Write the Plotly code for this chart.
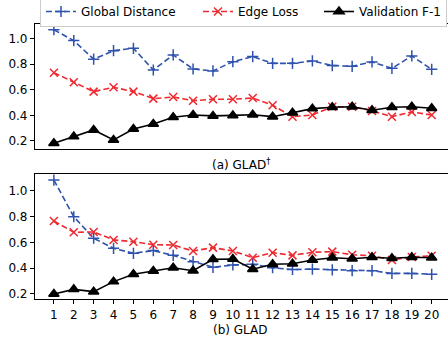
import plotly.graph_objects as go
from plotly.subplots import make_subplots

epochs = list(range(1, 21))

# (a) GLAD†
a_global = [1.07, 0.985, 0.84, 0.906, 0.925, 0.755, 0.873, 0.763, 0.748, 0.82,
            0.86, 0.807, 0.807, 0.826, 0.79, 0.784, 0.818, 0.768, 0.865, 0.76]
a_edge = [0.734, 0.659, 0.586, 0.62, 0.586, 0.531, 0.544, 0.515, 0.526, 0.526,
          0.536, 0.479, 0.39, 0.403, 0.468, 0.468, 0.435, 0.39, 0.427, 0.403]
a_f1 = [0.182, 0.234, 0.286, 0.208, 0.294, 0.333, 0.385, 0.403, 0.396, 0.40,
        0.405, 0.39, 0.421, 0.453, 0.464, 0.468, 0.44, 0.464, 0.468, 0.456]

# (b) GLAD
b_global = [1.085, 0.80, 0.633, 0.555, 0.516, 0.537, 0.50, 0.451, 0.407, 0.425,
            0.43, 0.404, 0.39, 0.393, 0.388, 0.381, 0.381, 0.36, 0.36, 0.353]
b_edge = [0.767, 0.679, 0.682, 0.62, 0.606, 0.583, 0.58, 0.534, 0.56, 0.534,
          0.482, 0.521, 0.50, 0.524, 0.529, 0.505, 0.497, 0.464, 0.487, 0.497]
b_f1 = [0.20, 0.236, 0.218, 0.296, 0.353, 0.379, 0.404, 0.381, 0.469, 0.472,
        0.392, 0.431, 0.435, 0.464, 0.482, 0.474, 0.485, 0.477, 0.485, 0.482]

series_names = ["Global Distance", "Edge Loss", "Validation F-1"]
y_ticks = [0.2, 0.4, 0.6, 0.8, 1.0]
y_tick_labels = ["0.2", "0.4", "0.6", "0.8", "1.0"]
panel_titles = ["(a) GLAD<sup>\u2020</sup>", "(b) GLAD"]

BLUE = "#2f52ad"
RED = "#ee2a30"
BLACK = "#000000"
FONT = "DejaVu Sans"

W, H = 448, 343
L = 35
PW = W - L

fig = make_subplots(rows=2, cols=1)

styles = [
    dict(color=BLUE, dash="6px,3px", symbol="cross-thin", size=8, lw=112),
    dict(color=RED, dash="6px,3px", symbol="x-thin", size=8, lw=76),
    dict(color=BLACK, dash="solid", symbol="triangle-up", size=9, lw=None),
]

for row, data in ((1, (a_global, a_edge, a_f1)), (2, (b_global, b_edge, b_f1))):
    for name, ys, st in zip(series_names, data, styles):
        kw = {}
        if st["lw"] is not None:
            kw["legendwidth"] = st["lw"]
        fig.add_trace(go.Scatter(
            x=epochs, y=ys, name=name, mode="lines+markers",
            showlegend=(row == 1),
            line=dict(color=st["color"], width=1.6, dash=st["dash"]),
            marker=dict(symbol=st["symbol"], size=st["size"], color=st["color"],
                        line=dict(color=st["color"], width=1.5)),
            **kw,
        ), row=row, col=1)


def ydom(top_px, bot_px):
    return [(H - bot_px) / H, (H - top_px) / H]


fig.update_layout(
    width=W, height=H,
    margin=dict(l=L, r=0, t=0, b=0, autoexpand=False),
    paper_bgcolor="white", plot_bgcolor="white",
    font=dict(family=FONT, size=12, color="black"),
    legend=dict(orientation="h", x=40 / W, xref="container",
                y=(H + 4) / H, yref="paper", xanchor="left", yanchor="top",
                bordercolor="#cccccc", borderwidth=1, bgcolor="white",
                font=dict(family=FONT, size=12), itemwidth=30,
                tracegroupgap=0),
    showlegend=True,
)

common_x = dict(range=[0.05, 20.82], showgrid=False, zeroline=False,
                showline=True, linecolor="black", linewidth=1.2, mirror=True,
                domain=[0, 1], automargin=False)
fig.update_xaxes(**common_x, showticklabels=False, ticks="", row=1, col=1)
fig.update_xaxes(**common_x, tickmode="array", tickvals=epochs,
                 ticktext=[str(e) for e in epochs], ticks="outside",
                 ticklen=4, tickcolor="black", row=2, col=1)

common_y = dict(showgrid=False, zeroline=False, showline=True, linecolor="black",
                linewidth=1.2, mirror=False, tickmode="array", tickvals=y_ticks,
                ticktext=y_tick_labels, ticks="outside", ticklen=4,
                tickcolor="black", automargin=False)
fig.update_yaxes(**common_y, range=[0.137, 1.115], domain=ydom(24, 149), row=1, col=1)
fig.update_yaxes(**common_y, range=[0.161, 1.132], domain=ydom(174, 299), row=2, col=1)

fig.add_annotation(text=panel_titles[0], xref="paper", yref="paper",
                   x=(240.5 - L) / PW, y=(H - 164) / H, showarrow=False,
                   xanchor="center", yanchor="middle", font=dict(size=12))
fig.add_annotation(text=panel_titles[1], xref="paper", yref="paper",
                   x=(240.5 - L) / PW, y=(H - 330) / H, showarrow=False,
                   xanchor="center", yanchor="middle", font=dict(size=12))

fig.write_html("out.html",
               config={"displayModeBar": False},
               post_script="document.body.style.margin='0px';"
                           "document.body.style.padding='0px';")
